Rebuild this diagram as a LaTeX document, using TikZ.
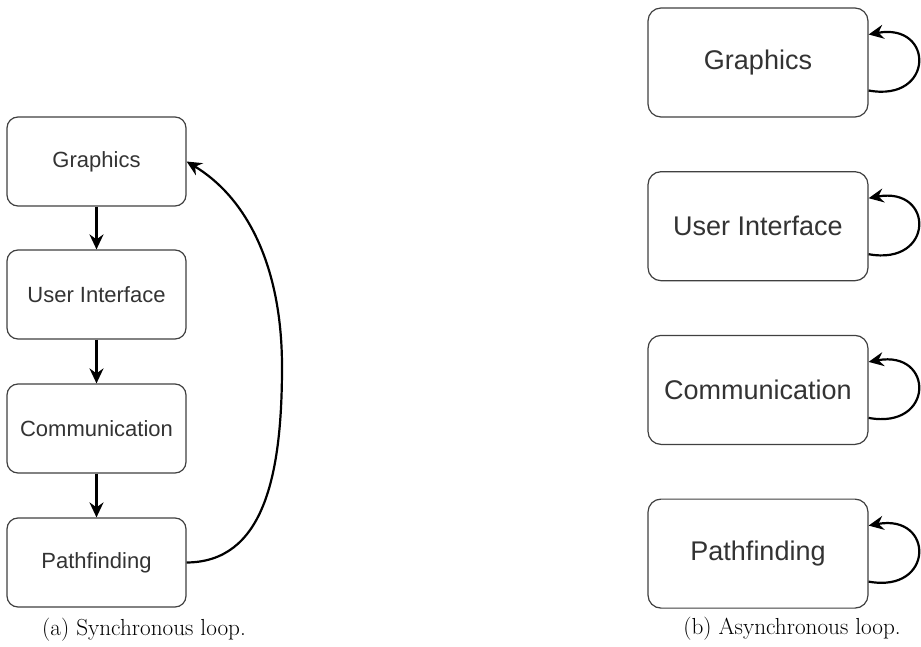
\documentclass[tikz,border=0pt]{standalone}
\usepackage{fontspec}
\setmainfont{Latin Modern Roman}
\newfontfamily\boxfont{Liberation Sans}
\usetikzlibrary{arrows.meta,calc}

\tikzset{
  stage/.style={draw=black!75, line width=1.2pt, rounded corners=11pt,
    fill=white, inner sep=0pt, text=black!80, font=\boxfont\fontsize{22}{26}\selectfont,
    minimum width=179pt, minimum height=89pt},
  bigstage/.style={stage, rounded corners=13pt, font=\boxfont\fontsize{27}{32}\selectfont,
    minimum width=220pt, minimum height=109pt},
  flow/.style={draw=black, line width=2.2pt,
    -{Stealth[length=15pt, width=14pt, inset=5pt]}},
  caption/.style={font=\fontsize{23.2}{27}\selectfont, text=black, inner sep=0pt}
}

\begin{document}
\begin{tikzpicture}[x=1pt, y=-1pt]
  \useasboundingbox (0,0) rectangle (921,647);

  % synchronous loop: one chain of stages
  \node[stage] (g1) at (96.5,161.5) {Graphics};
  \node[stage] (u1) at (96.5,294.5) {User Interface};
  \node[stage] (c1) at (96.5,428.5) {Communication};
  \node[stage] (p1) at (96.5,562.5) {Pathfinding};

  \draw[flow] (g1) -- (u1);
  \draw[flow] (u1) -- (c1);
  \draw[flow] (c1) -- (p1);
  \coordinate (turn) at (282,367);
  \draw[flow] (p1.east) .. controls (262,562) and (282,480) .. (turn)
              .. controls (282,262) and (244,196) .. (g1.east);

  \node[caption] (capa) at (144,630) {(a) Synchronous loop.};

  % asynchronous loop: each stage runs on its own
  \node[bigstage] (g2) at (758,62.5) {Graphics};
  \node[bigstage] (u2) at (758,226.2) {User Interface};
  \node[bigstage] (c2) at (758,389.9) {Communication};
  \node[bigstage] (p2) at (758,553.6) {Pathfinding};

  \foreach \n in {g2,u2,c2,p2}{
    \draw[flow] ($(\n.east)+(0,28)$) .. controls +(66,12) and +(66,-12)
                .. ($(\n.east)+(0,-28)$);
  }

  \node[caption] (capb) at (792,629) {(b) Asynchronous loop.};
\end{tikzpicture}
\end{document}
